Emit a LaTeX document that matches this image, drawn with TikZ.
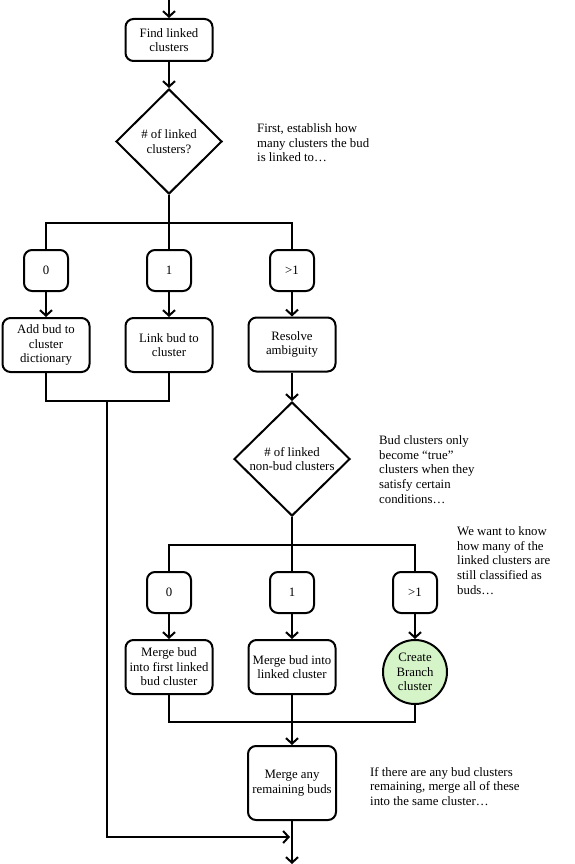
\documentclass[tikz,border=0pt]{standalone}
\usepackage{fontspec}
\setmainfont{Liberation Serif}
\usetikzlibrary{shapes.geometric,arrows.meta}
\begin{document}
\begin{tikzpicture}[x=1pt,y=-1pt,
  every node/.style={font=\fontsize{12.8}{14.6}\selectfont, align=center, inner sep=0pt},
  box/.style={draw, line width=2pt, rounded corners=8pt, minimum width=87pt, minimum height=54pt},
  small/.style={draw, line width=2pt, rounded corners=8pt, minimum width=44pt, minimum height=41pt},
  dia/.style={draw, line width=2pt, shape=diamond, aspect=1},
  note/.style={align=left, anchor=west},
  conn/.style={line width=2pt},
  arr/.style={line width=2pt, -{Straight Barb[length=5.5pt,width=12pt,line width=2pt]}}
]
\useasboundingbox (0,0) rectangle (574,864);

\coordinate (top) at (169,0);
\node[box, minimum height=42pt] (find) at (169,40) {Find linked\\clusters};
\node[dia, minimum width=106pt, minimum height=105pt] (d1) at (169,141.5) {\# of linked\\clusters?};
\node[note] (n1) at (257,143) {First, establish how\\many clusters the bud\\is linked to…};

\coordinate (b1) at (169,223);
\node[small] (z1) at (46,270.5) {0};
\node[small] (o1) at (169,270.5) {1};
\node[small] (g1) at (292,270.5) {>1};

\node[box] (add) at (46,345) {Add bud to\\cluster\\dictionary};
\node[box] (link) at (169,345) {Link bud to\\cluster};
\node[box] (res) at (292,344.5) {Resolve\\ambiguity};

\coordinate (j1) at (107,401);

\node[dia, minimum width=116pt, minimum height=114pt] (d2) at (292,459) {\# of linked\\non-bud clusters};
\node[note] (n2) at (379,469.5) {Bud clusters only\\become “true”\\clusters when they\\satisfy certain\\conditions…};
\node[note] (n3) at (457,560.5) {We want to know\\how many of the\\linked clusters are\\still classified as\\buds…};

\coordinate (b2) at (292,545);
\node[small] (z2) at (169,592.5) {0};
\node[small] (o2) at (292,592.5) {1};
\node[small] (g2) at (415,592.5) {>1};

\node[box] (m1) at (169,667) {Merge bud\\into first linked\\bud cluster};
\node[box] (m2) at (292,667) {Merge bud into\\linked cluster};
\node[draw, line width=2pt, circle, fill={rgb,255:red,213;green,245;blue,200}, minimum size=64pt] (cb) at (415,672) {Create\\Branch\\cluster};

\coordinate (j2) at (292,722);
\node[box, minimum width=88pt, minimum height=74pt] (rem) at (292,783) {Merge any\\remaining buds};
\node[note] (n4) at (370,786.5) {If there are any bud clusters\\remaining, merge all of these\\into the same cluster…};

\coordinate (hit) at (290,837);
\coordinate (end) at (292,864);

% connectors
\draw[arr] (top) -- (find.north);
\draw[arr] (find.south) -- (d1.north);
\draw[conn] (d1.south) -- (o1.north);
\draw[conn] (z1.north) |- (b1) -| (g1.north);
\draw[arr] (z1.south) -- (add.north);
\draw[arr] (o1.south) -- (link.north);
\draw[arr] (g1.south) -- (res.north);
\draw[conn] (add.south) |- (j1) -| (link.south);
\draw[arr] (j1) |- (hit);
\draw[arr] (res.south) -- (d2.north);
\draw[conn] (d2.south) -- (o2.north);
\draw[conn] (z2.north) |- (b2) -| (g2.north);
\draw[arr] (z2.south) -- (m1.north);
\draw[arr] (o2.south) -- (m2.north);
\draw[arr] (g2.south) -- (cb.north);
\draw[conn] (m1.south) |- (j2) -| (cb.south);
\draw[conn] (m2.south) -- (j2);
\draw[arr] (j2) -- (rem.north);
\draw[arr] (rem.south) -- (end);
\end{tikzpicture}
\end{document}
